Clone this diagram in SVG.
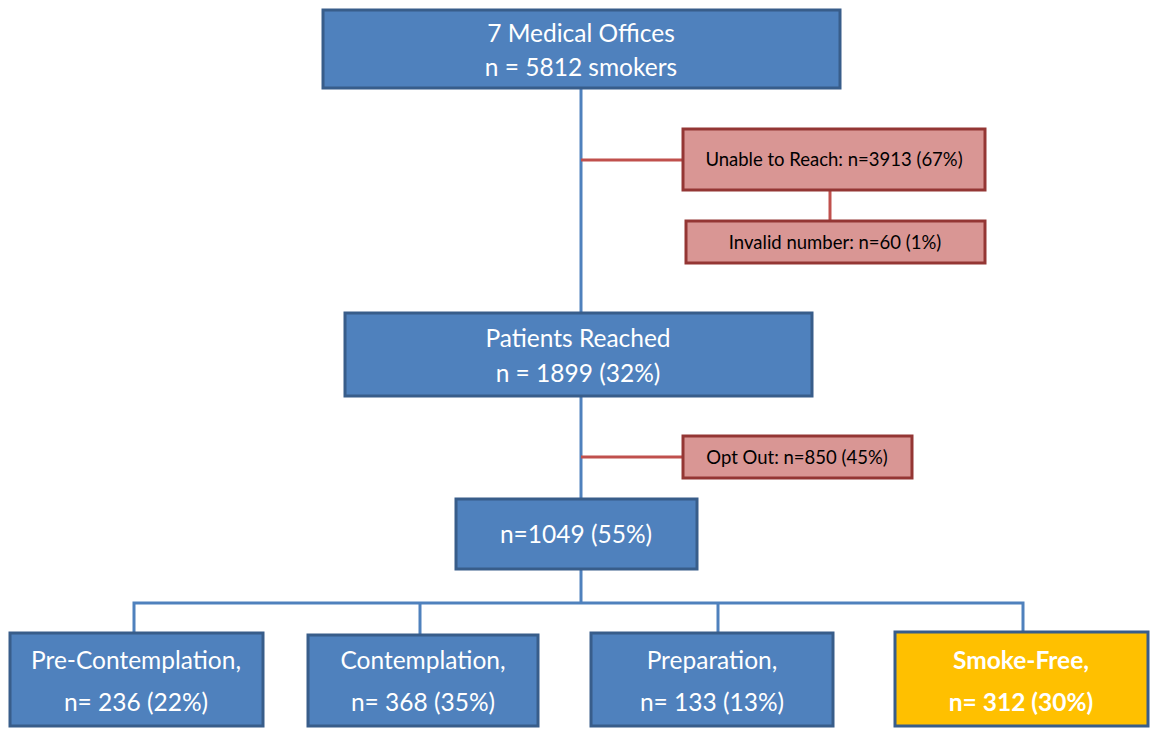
<svg xmlns="http://www.w3.org/2000/svg" width="1152" height="729" viewBox="0 0 1152 729">
<style>
.b{fill:#4F81BD;stroke:#385D8A;stroke-width:3}
.r{fill:#D99694;stroke:#943634;stroke-width:3}
.y{fill:#FFC000;stroke:#385D8A;stroke-width:3}
.t{font-family:Lato,"Open Sans","Liberation Sans",sans-serif;font-size:24.5px;fill:#fff;text-anchor:middle}
.s{font-family:Lato,"Open Sans","Liberation Sans",sans-serif;font-size:18.5px;fill:#000;text-anchor:middle}
.bl{stroke:#4F81BD;stroke-width:3;fill:none}
.rl{stroke:#C0504D;stroke-width:3;fill:none}
</style>
<rect width="1152" height="729" fill="#fff"/>
<g id="connectors">
<line class="bl" x1="581" y1="88" x2="581" y2="313"/>
<line class="rl" x1="581" y1="160" x2="683" y2="160"/>
<line class="rl" x1="830" y1="190" x2="830" y2="221"/>
<line class="bl" x1="581" y1="396" x2="581" y2="499"/>
<line class="rl" x1="581" y1="457" x2="683" y2="457"/>
<line class="bl" x1="581" y1="569" x2="581" y2="603"/>
<polyline class="bl" points="134,633 134,603 1023,603 1023,632"/>
<line class="bl" x1="420" y1="603" x2="420" y2="635"/>
<line class="bl" x1="718" y1="603" x2="718" y2="633"/>
</g>
<g id="offices">
<rect class="b" x="323" y="10" width="517" height="78"/>
<text class="t" x="581" y="42">7 Medical Offices</text>
<text class="t" x="581" y="76">n = 5812 smokers</text>
</g>
<g id="unable">
<rect class="r" x="683" y="129" width="302" height="61"/>
<text class="s" x="834" y="166">Unable to Reach: n=3913 (67%)</text>
</g>
<g id="invalid">
<rect class="r" x="686" y="221" width="299" height="42"/>
<text class="s" x="835" y="249">Invalid number: n=60 (1%)</text>
</g>
<g id="reached">
<rect class="b" x="345" y="313" width="467" height="83"/>
<text class="t" x="578" y="347">Patients Reached</text>
<text class="t" x="578" y="382">n = 1899 (32%)</text>
</g>
<g id="optout">
<rect class="r" x="683" y="436" width="229" height="42"/>
<text class="s" x="797" y="464">Opt Out: n=850 (45%)</text>
</g>
<g id="n1049">
<rect class="b" x="456" y="499" width="241" height="70"/>
<text class="t" x="576" y="543">n=1049 (55%)</text>
</g>
<g id="precontemplation">
<rect class="b" x="10" y="633" width="253" height="93"/>
<text class="t" x="136" y="669">Pre-Contemplation,</text>
<text class="t" x="136" y="711">n= 236 (22%)</text>
</g>
<g id="contemplation">
<rect class="b" x="308" y="635" width="230" height="91"/>
<text class="t" x="423" y="669">Contemplation,</text>
<text class="t" x="423" y="711">n= 368 (35%)</text>
</g>
<g id="preparation">
<rect class="b" x="591" y="633" width="242" height="93"/>
<text class="t" x="712" y="669">Preparation,</text>
<text class="t" x="712" y="711">n= 133 (13%)</text>
</g>
<g id="smokefree">
<rect class="y" x="895" y="632" width="253" height="94"/>
<text class="t" x="1021" y="669" font-weight="bold">Smoke-Free,</text>
<text class="t" x="1021" y="711" font-weight="bold">n= 312 (30%)</text>
</g>
</svg>
